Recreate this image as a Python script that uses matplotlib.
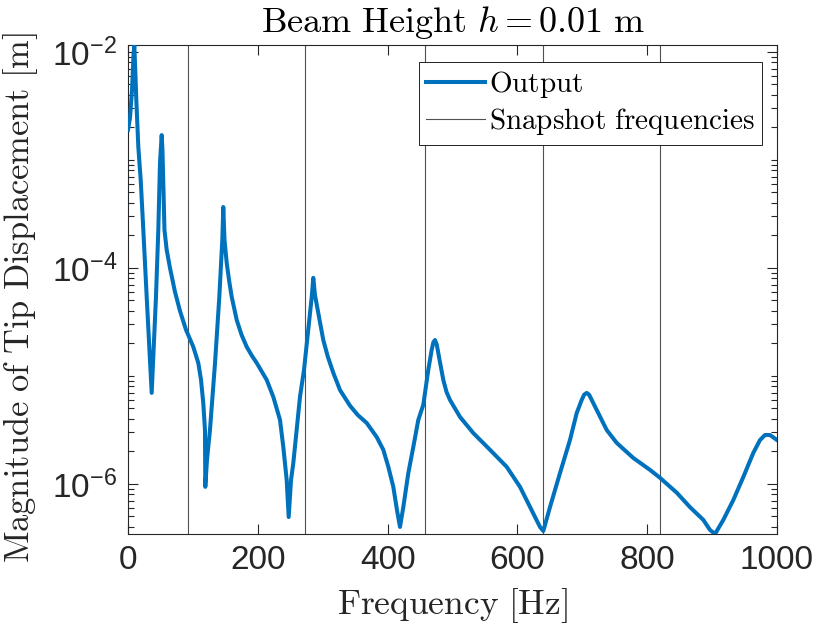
import numpy as np
import matplotlib
matplotlib.use("Agg")
from matplotlib import pyplot as plt
from matplotlib.ticker import LogLocator, LogFormatterSciNotation, NullFormatter, FixedLocator

# frequency response (Hz, m)
freq = [0, 3.1, 6.2, 8.5, 9.7, 11.2, 12.8, 15.9, 19.6, 23.6, 28.8, 33.1, 35.1, 36.5,
        39.0, 43.1, 46.7, 49.3, 51.9,
        53.1, 56.2, 59.6, 64.7, 72.4, 80.1, 89.4, 100.6, 108.3, 112.5, 116.0, 118.6, 119.1,
        121.7, 126.3, 134.1, 140.7, 145.3, 146.8,
        148.7, 152.1, 156.0, 159.8, 167.5, 175.0, 182.9, 190.6, 198.3, 206.0, 213.7, 223.9,
        229.0, 234.2, 239.3, 244.5, 247.6,
        251.2, 254.7, 259.9, 265.0, 271.2, 277.8, 283.1, 285.5,
        288.1, 293.2, 300.9, 308.0, 316.3, 326.7, 342.1, 354.0, 367.8, 383.2, 393.4, 401.1,
        408.8, 414.5, 419.1,
        424.2, 431.9, 439.6, 447.3, 455.0, 462.7, 467.9, 470.5, 473.0, 475.8,
        478.1, 485.8, 490.8, 496.1, 511.6, 532.0, 557.8, 583.5, 604.0, 622.0, 634.8, 639.9,
        650.2, 665.6, 681.0, 691.4, 699.1, 702.8, 706.8, 710.5,
        714.5, 722.2, 737.6, 753.0, 778.6, 804.3, 819.7, 845.5, 865.9, 886.4, 896.8, 904.5,
        917.3, 932.7, 948.1, 963.5, 973.8, 981.5, 989.2, 1000]
mag = [1.90e-3, 2.45e-3, 4.45e-3, 9.4e-3, 1.16e-2, 6.8e-3, 3.6e-3, 1.32e-3, 6.5e-4, 2.25e-4, 5.4e-5, 1.74e-5, 1.02e-5, 6.97e-6,
       1.50e-5, 5.4e-5, 2.25e-4, 9.4e-4, 1.70e-3,
       1.24e-3, 2.25e-4, 1.47e-4, 1.0e-4, 6.0e-5, 4.0e-5, 2.67e-5, 1.86e-5, 1.32e-5, 9.2e-6, 5.6e-6, 3.16e-6, 9.4e-7,
       1.67e-6, 3.16e-6, 1.32e-5, 5.4e-5, 1.82e-4, 3.67e-4,
       1.82e-4, 1.11e-4, 7.5e-5, 5.4e-5, 3.30e-5, 2.4e-5, 1.86e-5, 1.55e-5, 1.32e-5, 1.1e-5, 9.2e-6, 6.4e-6,
       5.0e-6, 3.92e-6, 2.20e-6, 1.09e-6, 4.94e-7,
       1.09e-6, 1.56e-6, 3.16e-6, 6.4e-6, 1.14e-5, 2.67e-5, 5.4e-5, 8.1e-5,
       5.6e-5, 3.83e-5, 2.15e-5, 1.5e-5, 1.07e-5, 7.4e-6, 5.3e-6, 4.35e-6, 3.67e-6, 2.72e-6, 2.07e-6, 1.44e-6,
       9.4e-7, 5.7e-7, 4.0e-7,
       6.1e-7, 1.26e-6, 2.20e-6, 3.92e-6, 5.4e-6, 1.14e-5, 1.74e-5, 2.05e-5, 2.15e-5, 1.95e-5,
       1.63e-5, 9.2e-6, 7.1e-6, 6.0e-6, 4.17e-6, 2.96e-6, 2.07e-6, 1.44e-6, 9.4e-7, 5.7e-7, 4.0e-7, 3.67e-7,
       6.1e-7, 1.26e-6, 2.55e-6, 4.54e-6, 6.0e-6, 6.7e-6, 6.97e-6, 6.7e-6,
       6.0e-6, 4.84e-6, 3.16e-6, 2.40e-6, 1.74e-6, 1.35e-6, 1.14e-6, 8.3e-7, 6.1e-7, 4.65e-7, 3.75e-7, 3.44e-7,
       4.65e-7, 7.1e-7, 1.16e-6, 1.94e-6, 2.55e-6, 2.84e-6, 2.84e-6, 2.55e-6]

snapshots = [92, 273, 457, 639, 819]
xticks = [0, 200, 400, 600, 800, 1000]

plt.rcParams['mathtext.fontset'] = 'cm'
plt.rcParams['axes.unicode_minus'] = False
plt.rcParams['font.family'] = ['Liberation Sans', 'DejaVu Sans']
axcol = '#262626'

fig = plt.figure(figsize=(8.15, 6.28), dpi=100)
ax = fig.add_axes([128/815, 1 - 534/628, 649/815, 489/628])

ax.semilogy(freq, mag, color='#0072BD', lw=2.9, label='Output', zorder=3,
            solid_joinstyle='round')
for i, s in enumerate(snapshots):
    ax.axvline(s, color='#505050', lw=0.8, zorder=2,
               label='Snapshot frequencies' if i == 0 else None)

ax.set_xlim(0, 1000)
ax.set_ylim(min(mag), max(mag))
ax.xaxis.set_major_locator(FixedLocator(xticks))
ax.yaxis.set_major_locator(FixedLocator([1e-6, 1e-4, 1e-2]))
ax.yaxis.set_major_formatter(LogFormatterSciNotation())
ax.yaxis.set_minor_locator(LogLocator(base=10, subs=np.arange(1, 10), numticks=50))
ax.yaxis.set_minor_formatter(NullFormatter())

ax.tick_params(which='both', direction='in', top=True, right=True, colors=axcol,
               labelsize=24, width=0.8)
ax.tick_params(which='major', length=7, pad=8)
ax.tick_params(which='minor', length=4)
for sp in ax.spines.values():
    sp.set_color(axcol)
    sp.set_linewidth(0.8)

ax.set_title(r'$\mathrm{Beam\ Height}\ h = 0.01\ \mathrm{m}$', fontsize=26, color='k',
             y=1.047, va='center', pad=0)
ax.set_xlabel(r'$\mathrm{Frequency\ [Hz]}$', fontsize=25.5, color=axcol)
ax.xaxis.label.set_va('center')
ax.xaxis.set_label_coords(0.5, -0.147)
ax.set_ylabel(r'$\mathrm{Magnitude\ of\ Tip\ Displacement\ [m]}$', fontsize=24.8, color=axcol)
ax.yaxis.label.set_va('center')
ax.yaxis.set_label_coords(-0.165, 0.483)

leg = ax.legend(loc='upper right', bbox_to_anchor=(0.977, 0.965), borderaxespad=0,
                fontsize=21, handlelength=2.0, handletextpad=0.15, borderpad=0.25,
                labelspacing=0.2, fancybox=False, framealpha=1)
leg.get_frame().set_edgecolor('k')
leg.get_frame().set_linewidth(0.6)
for t in leg.get_texts():
    t.set_text('$\\mathrm{' + t.get_text().replace(' ', '\\ ') + '}$')

fig.savefig('out.png', dpi=100)
